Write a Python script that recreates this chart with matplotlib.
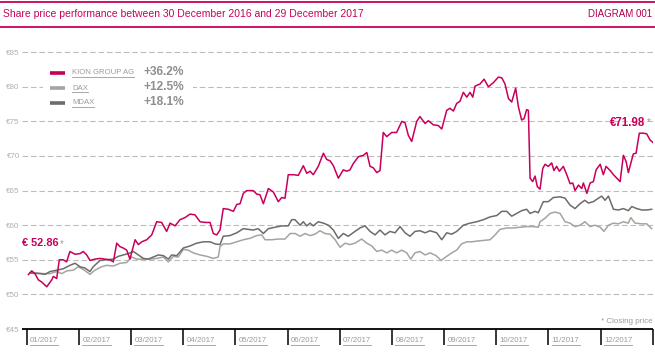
import matplotlib
matplotlib.use('Agg')
import matplotlib.pyplot as plt
from matplotlib.lines import Line2D
from matplotlib.patches import Rectangle
import numpy as np

plt.rcParams['font.family'] = ['Liberation Sans', 'DejaVu Sans']

# ---- data ----
title = 'Share price performance between 30 December 2016 and 29 December 2017'
diagram_no = 'DIAGRAM 001'
months = ['01/2017', '02/2017', '03/2017', '04/2017', '05/2017', '06/2017',
          '07/2017', '08/2017', '09/2017', '10/2017', '11/2017', '12/2017']
price_ticks = [45, 50, 55, 60, 65, 70, 75, 80, 85]
series_names = ['KION GROUP AG', 'DAX', 'MDAX']
series_changes = ['+36.2%', '+12.5%', '+18.1%']

kion_day = [1, 2.9, 4.8, 6.8, 8.7, 11.7, 14.6, 15.5, 17.5, 19.0,
            21.3, 23.3, 25.2, 28.2, 31.1, 33.0, 35.0, 36.9, 39.8, 42.7,
            45.7, 48.6, 50.5, 52.5, 54.4, 56.3, 58.3, 60.2, 63.2, 65.1,
            67.1, 70.0, 72.9, 75.8, 78.7, 81.6, 83.6, 86.5, 89.4, 92.3,
            95.2, 98.1, 101.1, 104.0, 106.9, 108.8, 110.8, 112.7, 114.6, 117.6,
            120.5, 122.5, 124.4, 126.3, 128.3, 130.2, 132.1, 134.1, 136.0, 138.0,
            140.9, 143.8, 146.7, 148.7, 150.6, 152.5, 155.5, 158.4, 161.3, 163.3,
            165.2, 167.1, 170.0, 173.0, 174.9, 176.9, 178.8, 181.7, 184.6, 186.6,
            188.5, 190.4, 193.4, 196.3, 198.3, 200.2, 202.1, 204.1, 206.0, 207.9,
            209.9, 212.8, 215.7, 218.7, 220.6, 222.5, 224.5, 227.4, 229.3, 232.3,
            234.2, 237.1, 240.0, 242.0, 244.9, 246.8, 248.8, 250.7, 252.6, 254.6,
            256.6, 258.5, 260.1, 261.4, 264.3, 266.7, 269.2, 272.1, 275.0, 277.0,
            278.9, 280.9, 282.8, 285.1, 286.7, 288.6, 290.0, 291.5, 292.5, 293.5,
            295.0, 296.4, 297.7, 299.3, 300.9, 302.2, 304.1, 306.1, 307.4, 309.0,
            310.6, 312.9, 314.9, 316.8, 318.4, 319.7, 321.7, 323.6, 324.6, 326.6,
            328.5, 330.4, 332.0, 334.4, 336.2, 337.8, 340.2, 342.1, 346.0, 347.9,
            349.5, 350.8, 353.7, 355.3, 357.2, 359.6, 361.5, 363.5, 365]
kion_price = [52.86, 53.4, 53.0, 52.1, 51.8, 51.1, 52.1, 52.6, 52.3, 55.0,
              55.0, 54.7, 56.2, 55.8, 55.9, 56.2, 55.7, 54.9, 55.1, 55.2,
              55.1, 55.0, 54.7, 57.4, 56.9, 56.7, 56.4, 55.1, 57.9, 57.2,
              57.6, 57.9, 58.6, 60.5, 60.4, 59.1, 60.3, 59.9, 60.8, 61.1,
              61.6, 61.5, 60.5, 60.4, 60.4, 58.8, 58.6, 59.3, 62.4, 62.3,
              62.0, 63.0, 63.1, 64.6, 65.0, 65.0, 65.0, 64.5, 64.4, 63.1,
              65.3, 64.8, 63.4, 64.0, 63.9, 67.3, 67.3, 67.2, 68.6, 67.5,
              67.8, 67.3, 68.5, 70.4, 69.5, 69.3, 68.6, 66.8, 68.0, 67.8,
              68.0, 68.9, 69.9, 70.1, 70.5, 68.5, 68.3, 67.6, 67.9, 73.4,
              72.8, 73.4, 73.4, 75.0, 74.8, 73.0, 72.1, 75.0, 75.7, 74.7,
              75.1, 74.5, 74.4, 73.9, 76.6, 76.9, 76.5, 77.6, 77.9, 79.2,
              78.5, 79.2, 78.5, 80.1, 80.4, 81.1, 80.0, 80.6, 81.4, 81.3,
              80.4, 78.3, 77.8, 79.8, 77.1, 75.2, 75.4, 76.7, 76.6, 66.8,
              66.3, 67.1, 65.6, 65.2, 68.2, 68.8, 68.5, 69.0, 67.9, 68.5,
              67.8, 68.5, 67.3, 66.0, 66.1, 65.0, 65.8, 65.3, 66.1, 64.6,
              66.1, 66.3, 68.0, 68.8, 67.3, 68.5, 67.9, 67.3, 66.3, 70.1,
              69.2, 67.6, 70.3, 70.4, 73.3, 73.3, 73.2, 72.3, 71.98]

dax_day = [1.9, 5.8, 9.7, 13.6, 17.5, 20.4, 23.3, 27.2, 30.1, 33.0,
           36.9, 39.8, 43.7, 46.6, 50.5, 54.4, 58.3, 61.2, 64.1, 68.0,
           71.9, 75.8, 79.7, 82.6, 85.5, 88.4, 91.3, 94.2, 97.1, 101.1,
           105.0, 108.8, 111.7, 112.7, 114.6, 118.5, 122.5, 126.3, 130.2, 134.1,
           137.0, 139.0, 142.9, 146.7, 150.6, 153.6, 156.5, 159.4, 162.3, 165.2,
           168.1, 171.0, 173.9, 176.9, 179.8, 182.7, 185.6, 188.5, 191.4, 195.3,
           198.3, 201.2, 204.1, 207.0, 209.9, 212.8, 215.7, 218.7, 221.6, 223.9,
           226.4, 229.3, 232.3, 235.2, 238.7, 241.6, 244.9, 247.8, 250.7, 253.6,
           256.6, 259.5, 262.4, 266.3, 270.2, 273.1, 276.0, 279.9, 283.8, 287.6,
           291.5, 295.4, 298.3, 299.3, 302.2, 305.1, 308.0, 311.0, 313.9, 316.8,
           319.7, 322.6, 325.5, 328.5, 331.4, 334.4, 336.6, 339.2, 342.1, 345.0,
           347.9, 350.8, 352.2, 354.7, 358.6, 361.5, 364.4]
dax_price = [53.1, 53.1, 53.0, 53.0, 53.3, 53.0, 53.4, 53.5, 54.0, 53.6,
             52.9, 53.5, 54.0, 54.2, 54.1, 54.5, 54.6, 55.4, 55.1, 55.1,
             55.1, 55.2, 55.4, 54.7, 55.5, 55.4, 56.5, 56.4, 56.0, 55.7,
             55.5, 55.2, 55.4, 56.9, 57.3, 57.3, 57.6, 57.9, 58.1, 58.5,
             58.6, 57.9, 57.9, 58.0, 58.0, 58.8, 58.8, 58.4, 58.8, 58.5,
             58.7, 59.2, 58.8, 58.7, 57.9, 56.8, 57.4, 57.2, 57.4, 58.0,
             57.4, 57.0, 56.2, 56.4, 56.0, 56.4, 56.0, 56.4, 56.0, 55.1,
             56.0, 56.2, 55.7, 56.0, 55.6, 54.9, 55.5, 56.0, 56.4, 57.3,
             57.6, 57.6, 57.7, 57.8, 57.9, 58.6, 59.4, 59.6, 59.6, 59.7,
             59.8, 59.8, 59.7, 60.5, 61.0, 61.7, 61.9, 61.7, 60.5, 60.3,
             59.8, 60.0, 60.5, 59.8, 60.0, 59.7, 59.1, 60.0, 60.3, 60.2,
             60.5, 60.3, 61.1, 60.3, 60.2, 60.2, 59.5]

mdax_day = [1.9, 7.8, 10.7, 13.6, 17.5, 21.3, 25.2, 28.2, 31.1, 34.0,
            36.9, 38.8, 42.7, 46.6, 50.5, 53.4, 56.3, 59.2, 62.2, 65.1,
            68.0, 70.9, 73.8, 76.7, 79.7, 82.6, 84.5, 87.5, 91.3, 95.2,
            99.1, 103.0, 106.9, 109.8, 112.7, 114.6, 118.5, 122.5, 126.3, 129.2,
            132.1, 135.0, 138.0, 140.9, 144.8, 148.7, 152.5, 154.5, 156.4, 159.4,
            161.3, 163.3, 165.2, 167.1, 170.0, 173.0, 175.9, 178.8, 181.7, 184.6,
            187.5, 191.4, 194.3, 197.3, 200.2, 203.1, 206.0, 208.9, 211.8, 214.8,
            217.7, 220.6, 223.5, 226.4, 229.3, 232.3, 235.2, 239.1, 242.0, 244.9,
            247.8, 250.7, 254.6, 258.5, 262.4, 266.3, 270.2, 274.1, 277.0, 279.9,
            282.8, 285.7, 288.6, 291.5, 293.5, 296.4, 298.3, 301.2, 304.1, 307.1,
            311.0, 313.9, 316.8, 319.7, 322.6, 325.4, 327.5, 330.4, 333.3, 335.3,
            337.2, 339.2, 342.1, 345.0, 347.9, 350.8, 352.8, 355.7, 358.6, 361.5,
            364.4]
mdax_price = [53.1, 53.0, 52.9, 53.3, 53.5, 53.7, 54.2, 54.5, 54.0, 53.8,
              53.3, 54.0, 54.9, 55.0, 55.1, 55.5, 55.7, 55.9, 56.2, 55.7,
              55.2, 55.1, 55.4, 55.7, 55.6, 55.1, 55.7, 55.6, 56.7, 57.0,
              57.4, 57.6, 57.6, 57.3, 57.2, 58.4, 58.5, 58.9, 59.5, 59.4,
              59.3, 59.5, 58.8, 59.5, 59.7, 59.9, 59.9, 60.8, 60.8, 60.0,
              60.5, 59.9, 60.3, 59.9, 60.5, 60.3, 60.0, 59.3, 58.1, 58.8,
              58.4, 59.1, 59.6, 59.9, 59.1, 58.6, 59.3, 58.6, 59.1, 58.9,
              59.8, 58.9, 58.4, 59.1, 59.2, 58.9, 59.2, 58.9, 57.9, 58.9,
              58.7, 59.1, 60.0, 60.3, 60.5, 60.8, 61.2, 61.4, 62.0, 62.0,
              61.3, 61.7, 62.1, 62.3, 61.7, 62.0, 61.8, 63.4, 63.4, 64.0,
              64.1, 63.9, 62.9, 62.4, 63.1, 63.6, 63.2, 63.4, 63.9, 64.2,
              63.6, 64.2, 62.3, 62.2, 62.4, 62.1, 62.7, 62.4, 62.2, 62.2,
              62.3]

# ---- style ----
W, H = 655, 353
MAGENTA = '#c8005a'
DAX_C = '#a4a4a0'
MDAX_C = '#6c6c68'
TXT_GREY = '#9c9c9c'
GRID_C = '#bcbcbc'
colors = [MAGENTA, DAX_C, MDAX_C]


def fx(x):
    return x / W


def fy(y):
    return 1 - y / H


fig = plt.figure(figsize=(W / 100, H / 100), dpi=100)

# axes: x 26.7..652.7 px, y baseline at 329 px, 6.92 px per euro
left_px, right_px, base_px, top_px = 26.7, 652.7, 329, 40
ax = fig.add_axes([fx(left_px), fy(base_px), (right_px - left_px) / W,
                   (base_px - top_px) / H])
ax.set_xlim(0, 365)
ax.set_ylim(45, 45 + (base_px - top_px) / 6.92)
for s in ax.spines.values():
    s.set_visible(False)

# grid lines (dashed) + solid baseline, starting a bit left of the plot
x0 = (22 - left_px) / (right_px - left_px)
ax.hlines(price_ticks[1:], x0, 1, transform=ax.get_yaxis_transform(),
          colors=GRID_C, lw=0.8, linestyles=(0, (5, 2.6)), clip_on=False, zorder=1)
ax.hlines([45], x0, 1, transform=ax.get_yaxis_transform(),
          colors='black', lw=1.3, clip_on=False, zorder=3)

ax.set_yticks(price_ticks)
ax.set_yticklabels(['€{}'.format(v) for v in price_ticks])
ax.tick_params(axis='y', length=0, pad=5, labelsize=5.8, labelcolor='#b0b0b0')

# month separators as ticks
bounds = np.arange(13) * 365 / 12
ax.set_xticks(bounds)
ax.set_xticklabels([])
ax.tick_params(axis='x', direction='out', length=11.5, width=1.1, color='black')

month_texts = []
for i, m in enumerate(months):
    t = ax.text(bounds[i] + 2.0, -12 / (base_px - top_px), m,
                transform=ax.get_xaxis_transform(), ha='left', va='center',
                fontsize=5.7, color=TXT_GREY)
    month_texts.append(t)

# series
ax.plot(dax_day, dax_price, color=DAX_C, lw=1.1, zorder=4)
ax.plot(mdax_day, mdax_price, color=MDAX_C, lw=1.1, zorder=5)
ax.plot(kion_day, kion_price, color=MAGENTA, lw=1.1, zorder=6)

# price labels
t1 = fig.text(fx(22), fy(243), '€ {:.2f}'.format(kion_price[0]), color=MAGENTA,
              fontsize=7.9, fontweight='bold', ha='left', va='center')
t2 = fig.text(fx(610), fy(122.5), '€{:.2f}'.format(kion_price[-1]), color=MAGENTA,
              fontsize=8.3, fontweight='bold', ha='left', va='center')
star_texts = [t1, t2]

fig.text(fx(652.5), fy(321.5), '* Closing price', color=TXT_GREY, fontsize=5.8,
         ha='right', va='center')

# header
fig.add_artist(Line2D([0, 1], [fy(1.5)] * 2, color=MAGENTA, lw=1.3))
fig.add_artist(Line2D([0, 1], [fy(26.5)] * 2, color=MAGENTA, lw=1.3))
fig.text(fx(3), fy(14), title, color=MAGENTA, fontsize=7.5, ha='left', va='center')
fig.text(fx(652), fy(14), diagram_no, color='#b0004a', fontsize=7, ha='right',
         va='center')

# legend
fig.add_artist(Rectangle((fx(43), fy(110)), fx(150), 48 / H, facecolor='white',
                         edgecolor='none', zorder=2))
legend_texts = []
for i, (name, chg) in enumerate(zip(series_names, series_changes)):
    yy = 72.7 + i * 15
    fig.add_artist(Line2D([fx(50), fx(65)], [fy(yy)] * 2, color=colors[i], lw=2.6,
                          solid_capstyle='butt', zorder=3))
    t = fig.text(fx(72), fy(yy + 0.3), name, color=TXT_GREY, fontsize=5.6,
                 ha='left', va='center', zorder=3)
    legend_texts.append(t)
    fig.text(fx(144), fy(yy - 0.8), chg, color='#8e8e8e', fontsize=8.6,
             fontweight='bold', ha='left', va='center', zorder=3)

# underlines and asterisks need the rendered text extents
fig.canvas.draw()
r = fig.canvas.get_renderer()
inv = fig.transFigure.inverted()
for t in month_texts + legend_texts:
    bb = t.get_window_extent(r).transformed(inv)
    fig.add_artist(Line2D([bb.x0, bb.x1], [bb.y0 - 0.8 / H] * 2,
                          color='#a8a8a8', lw=0.7, zorder=3))
for t in star_texts:
    bb = t.get_window_extent(r).transformed(inv)
    fig.text(bb.x1 + 1.5 / W, bb.y1 - 1 / H, '*', color=TXT_GREY, fontsize=7,
             ha='left', va='top')

fig.savefig('out.png', dpi=100)
